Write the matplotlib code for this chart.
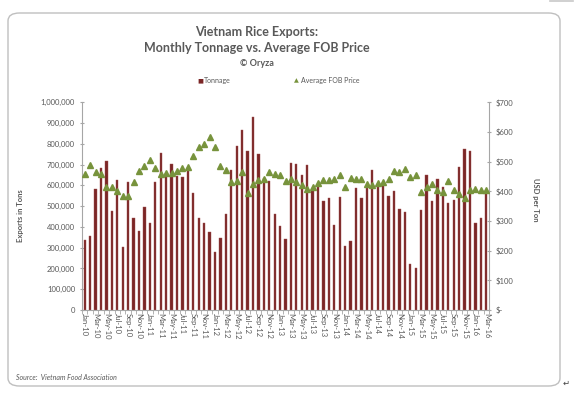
import numpy as np
import matplotlib
matplotlib.use("Agg")
import matplotlib.pyplot as plt
from matplotlib.patches import FancyBboxPatch
from matplotlib.lines import Line2D
from matplotlib.ticker import FuncFormatter

# monthly data Jan-10 .. Mar-16
months = []
for yr in range(10, 17):
    for m in ["Jan", "Feb", "Mar", "Apr", "May", "Jun", "Jul", "Aug", "Sep", "Oct", "Nov", "Dec"]:
        months.append(f"{m}-{yr}")
months = months[:75]

tonnage = [338000, 357000, 582000, 686000, 715000, 477000, 628000, 305000, 615000, 444000,
           381000, 495000, 417000, 615000, 755000, 660000, 705000, 644000, 638000, 686000,
           561000, 444000, 417000, 377000, 280000, 349000, 462000, 672000, 792000, 869000,
           766000, 930000, 750000, 635000, 622000, 462000, 404000, 343000, 708000, 702000,
           649000, 699000, 577000, 596000, 527000, 538000, 410000, 542000, 309000, 330000,
           585000, 540000, 588000, 672000, 606000, 606000, 547000, 572000, 487000, 474000,
           223000, 200000, 481000, 652000, 527000, 633000, 593000, 516000, 532000, 689000,
           773000, 764000, 418000, 442000, 569000]

fob_price = [457, 489, 466, 460, 416, 414, 401, 384, 384, 432,
             469, 487, 505, 478, 460, 463, 463, 468, 478, 482,
             519, 548, 561, 582, 550, 487, 471, 433, 435, 464,
             395, 424, 437, 442, 465, 458, 454, 435, 440, 430,
             421, 408, 414, 427, 438, 437, 443, 455, 415, 445,
             442, 442, 424, 422, 428, 431, 440, 469, 466, 476,
             448, 455, 397, 413, 424, 405, 398, 435, 406, 392,
             376, 406, 408, 406, 403]

gray = "#595959"
bar_color = "#7b2626"
tri_color = "#77933c"

fig = plt.figure(figsize=(5.78, 3.94), dpi=100)
plt.rcParams["font.family"] = ["Lato", "DejaVu Sans"]

# rounded chart frame, behind everything
frame = FancyBboxPatch((8 / 578, 1 - 386 / 394), (560 - 8) / 578, (386 - 13) / 394,
                       boxstyle="round,pad=0,rounding_size=0.02",
                       transform=fig.transFigure, facecolor="white",
                       edgecolor="#bfbfbf", linewidth=1.0, zorder=-10)
fig.patches.append(frame)
fig.add_artist(Line2D([550 / 578, 573 / 578], [1 - 0.8 / 394, 1 - 0.8 / 394],
                      transform=fig.transFigure, color="#c8c8c8", linewidth=1.2))

ax = fig.add_axes([82 / 578, 1 - 310 / 394, (489 - 82) / 578, (310 - 102.3) / 394])
ax.patch.set_alpha(0)
x = np.arange(len(months))
ax.bar(x, tonnage, width=0.42, color=bar_color, edgecolor="#a05050", linewidth=0.3, zorder=2)
ax.set_xlim(-0.5, len(months) - 0.5)
ax.set_ylim(0, 1000000)
ax.set_yticks(np.arange(0, 1000001, 100000))
ax.yaxis.set_major_formatter(FuncFormatter(lambda v, p: f"{int(v):,}"))
ax.set_xticks(x[::2])
ax.set_xticklabels(months[::2], rotation=-90, fontsize=5.5, color=gray)
ax.set_xticks(np.arange(-0.5, len(months), 1), minor=True)
ax.tick_params(axis="x", which="major", length=0, pad=2)
ax.tick_params(axis="x", which="minor", length=3, color="#a6a6a6")
ax.tick_params(axis="y", labelsize=5.5, labelcolor=gray, color="#a6a6a6", length=3, direction="inout")
for s in ["top", "right"]:
    ax.spines[s].set_visible(False)
ax.spines["left"].set_color("#a6a6a6")
ax.spines["bottom"].set_color("#a6a6a6")

ax2 = ax.twinx()
ax2.plot(x, fob_price, linestyle="none", marker="^", markersize=4.5,
         color=tri_color, zorder=3)
ax2.set_ylim(0, 700)
ax2.set_yticks(np.arange(0, 701, 100))
ax2.yaxis.set_major_formatter(FuncFormatter(lambda v, p: "$-" if v == 0 else f"${int(v)}"))
ax2.tick_params(axis="y", labelsize=5.5, labelcolor=gray, color="#a6a6a6", length=3, direction="inout")
for s in ["top", "left", "bottom"]:
    ax2.spines[s].set_visible(False)
ax2.spines["right"].set_color("#a6a6a6")

# titles
fig.text(257 / 578, 1 - 32 / 394, "Vietnam Rice Exports:", ha="center", va="center",
         fontsize=9, fontweight="bold", color=gray)
fig.text(257 / 578, 1 - 48 / 394, "Monthly Tonnage vs. Average FOB Price", ha="center", va="center",
         fontsize=9, fontweight="bold", color=gray)
fig.text(257 / 578, 1 - 63 / 394, "© Oryza", ha="center", va="center",
         fontsize=6.5, fontweight="bold", color=gray)

# legend
fig.text(197 / 578, 1 - 81 / 394, "■", ha="left", va="center", fontsize=4.5, color=bar_color,
         family="DejaVu Sans")
fig.text(204 / 578, 1 - 81 / 394, "Tonnage", ha="left", va="center", fontsize=5, color=gray)
fig.text(294 / 578, 1 - 81 / 394, "▲", ha="left", va="center", fontsize=4.5, color=tri_color,
         family="DejaVu Sans")
fig.text(301 / 578, 1 - 81 / 394, "Average FOB Price", ha="left", va="center", fontsize=5, color=gray)

fig.text(21 / 578, 1 - 216 / 394, "Exports in Tons", rotation=90, ha="center", va="center",
         fontsize=5.5, fontweight="bold", color=gray)
fig.text(535 / 578, 1 - 200 / 394, "USD per Ton", rotation=-90, ha="center", va="center",
         fontsize=5.5, fontweight="bold", color=gray)
fig.text(16 / 578, 1 - 377 / 394, "Source:  Vietnam Food Association", ha="left", va="center",
         fontsize=5, style="italic", color=gray)
fig.text(566 / 578, 1 - 383 / 394, "↵", ha="center", va="center", fontsize=6, color="#404040",
         family="DejaVu Sans")

fig.savefig("out.png", dpi=100)
